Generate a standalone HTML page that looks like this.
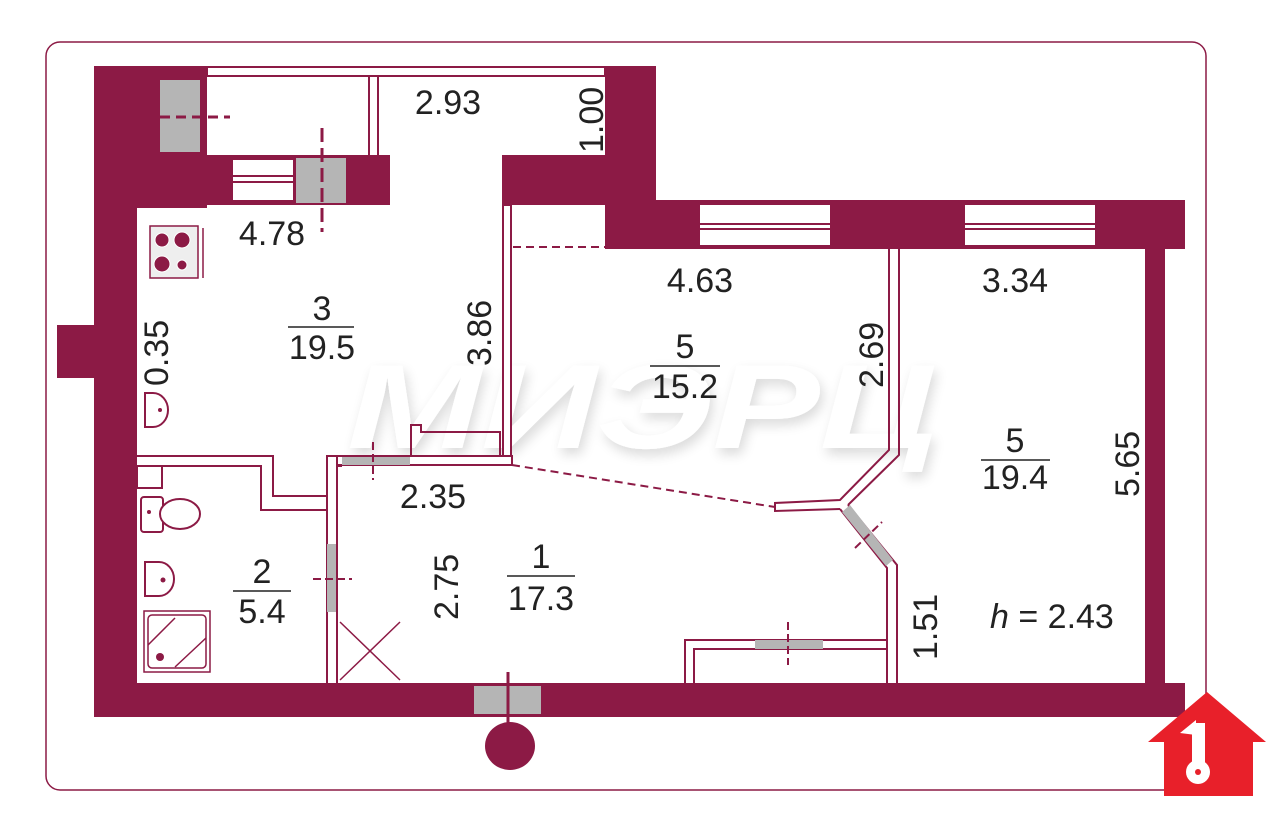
<!DOCTYPE html>
<html><head><meta charset="utf-8"><style>
html,body{margin:0;padding:0;background:#fff;}
svg{display:block;}
text{font-family:"Liberation Sans",sans-serif;fill:#222;}
</style></head><body>
<svg width="1280" height="821" viewBox="0 0 1280 821" xmlns="http://www.w3.org/2000/svg">
<defs><style>.w{fill:#8c1a45}.t{fill:#fff;stroke:#8c1a45;stroke-width:2}.g{fill:#b5b5b5}.d{stroke:#8c1a45;stroke-width:2;stroke-dasharray:8 5;fill:none}.n{font-size:34px}</style>
<filter id="sh" x="-10%" y="-30%" width="120%" height="160%"><feGaussianBlur in="SourceAlpha" stdDeviation="6"/><feOffset dx="3" dy="6"/><feComponentTransfer><feFuncA type="linear" slope="0.15"/></feComponentTransfer><feMerge><feMergeNode/><feMergeNode in="SourceGraphic"/></feMerge></filter></defs>
<rect x="46" y="42" width="1160" height="748" rx="14" fill="none" stroke="#8c1a45" stroke-width="1.5"/>
<!-- watermark -->
<text x="642" y="448" text-anchor="middle" font-size="120" font-weight="bold" font-style="italic" style="fill:#fff" filter="url(#sh)" textLength="590" lengthAdjust="spacingAndGlyphs">МИЭРЦ</text>
<!-- walls -->
<rect class="w" x="94" y="66" width="113" height="142"/>
<rect class="w" x="94" y="155" width="296" height="50"/>
<rect class="w" x="94" y="66" width="43" height="651"/>
<rect class="w" x="57" y="325" width="40" height="53"/>
<rect class="w" x="605" y="66" width="51" height="140"/>
<rect class="w" x="502" y="155" width="154" height="50"/>
<rect class="w" x="605" y="200" width="580" height="49"/>
<rect class="w" x="1145" y="249" width="20" height="440"/>
<rect class="w" x="94" y="683" width="1091" height="34"/>
<!-- windows / doors in walls -->
<rect class="g" x="160" y="80" width="40" height="72"/>
<line x1="160" y1="117" x2="230" y2="117" stroke="#8c1a45" stroke-width="3" stroke-dasharray="10 6"/>
<rect x="233" y="160" width="60" height="40" fill="#fff"/>
<line x1="233" y1="176" x2="293" y2="176" stroke="#8c1a45" stroke-width="2"/><line x1="233" y1="182" x2="293" y2="182" stroke="#8c1a45" stroke-width="2"/>
<rect class="g" x="296" y="158" width="50" height="45"/>
<line x1="322" y1="128" x2="322" y2="232" stroke="#8c1a45" stroke-width="3" stroke-dasharray="14 6"/>
<rect x="700" y="205" width="130" height="40" fill="#fff"/>
<line x1="700" y1="224" x2="830" y2="224" stroke="#8c1a45" stroke-width="2"/><line x1="700" y1="229" x2="830" y2="229" stroke="#8c1a45" stroke-width="2"/>
<rect x="965" y="205" width="130" height="40" fill="#fff"/>
<line x1="965" y1="224" x2="1095" y2="224" stroke="#8c1a45" stroke-width="2"/><line x1="965" y1="229" x2="1095" y2="229" stroke="#8c1a45" stroke-width="2"/>
<rect class="g" x="474" y="686" width="67" height="28"/>
<line x1="508" y1="672" x2="508" y2="725" stroke="#8c1a45" stroke-width="3"/>
<ellipse cx="510" cy="746" rx="25" ry="24" fill="#8c1a45"/>
<!-- balcony thin -->
<rect class="t" x="207" y="67" width="398" height="9"/>
<rect class="t" x="369" y="76" width="9" height="80"/>
<!-- partitions -->
<rect class="t" x="503" y="205" width="8" height="260"/>
<line x1="513" y1="247" x2="605" y2="247" class="d"/>
<polyline points="411,458 411,425 421,425 421,432 500,432 500,462" fill="none" stroke="#8c1a45" stroke-width="2"/>
<rect class="t" x="337" y="456" width="175" height="9"/>
<rect class="g" x="342" y="457" width="68" height="8"/>
<line x1="373" y1="442" x2="373" y2="480" stroke="#8c1a45" stroke-width="2" stroke-dasharray="8 4"/>
<line x1="512" y1="465" x2="775" y2="507" class="d" stroke-dasharray="5 4"/>
<!-- bathroom walls -->
<polyline points="137,456 273,456 273,496 327,496 327,683" fill="none" stroke="#8c1a45" stroke-width="2"/>
<polyline points="137,466 261,466 261,510 327,510" fill="none" stroke="#8c1a45" stroke-width="2"/>
<polyline points="337,683 337,466 342,466" fill="none" stroke="#8c1a45" stroke-width="2"/>
<polyline points="327,496 327,456 337,456" fill="none" stroke="#8c1a45" stroke-width="2"/>
<rect class="g" x="327" y="544" width="9" height="68"/>
<line x1="313" y1="579" x2="352" y2="579" stroke="#8c1a45" stroke-width="2" stroke-dasharray="8 4"/>
<line x1="340" y1="622" x2="400" y2="680" stroke="#8c1a45" stroke-width="1.5"/><line x1="400" y1="622" x2="340" y2="680" stroke="#8c1a45" stroke-width="1.5"/>
<rect x="137" y="466" width="25" height="22" fill="none" stroke="#8c1a45" stroke-width="2"/>
<!-- fixtures -->
<rect x="141" y="497" width="22" height="35" rx="3" fill="#fff" stroke="#8c1a45" stroke-width="2"/>
<ellipse cx="180" cy="514" rx="20" ry="15" fill="#fff" stroke="#8c1a45" stroke-width="2"/>
<circle cx="149" cy="512" r="2" fill="#8c1a45"/>
<path d="M145,562 h14 a15,17 0 0 1 0,34 h-14 z" fill="#fff" stroke="#8c1a45" stroke-width="2"/>
<circle cx="163" cy="580" r="2.5" fill="#8c1a45"/>
<rect x="144" y="611" width="66" height="61" fill="#fff" stroke="#8c1a45" stroke-width="1.5"/>
<rect x="148" y="615" width="58" height="53" rx="4" fill="none" stroke="#8c1a45" stroke-width="1.5"/>
<line x1="148" y1="645" x2="175" y2="618" stroke="#8c1a45" stroke-width="1.5"/><line x1="175" y1="667" x2="206" y2="638" stroke="#8c1a45" stroke-width="1.5"/>
<circle cx="160" cy="657" r="4" fill="#8c1a45"/>
<path d="M145,393 h8 a15,17 0 0 1 0,34 h-8 z" fill="#fff" stroke="#8c1a45" stroke-width="2"/>
<circle cx="160" cy="410" r="2" fill="#8c1a45"/>
<rect x="150" y="226" width="48" height="52" fill="#eee" stroke="#8c1a45" stroke-width="1.5"/>
<line x1="203" y1="228" x2="203" y2="278" stroke="#8c1a45" stroke-width="1.5"/>
<circle cx="162" cy="240" r="7" fill="#8c1a45" stroke="#fff" stroke-width="1"/><circle cx="182" cy="240" r="8" fill="#8c1a45" stroke="#fff" stroke-width="1"/>
<circle cx="162" cy="264" r="8" fill="#8c1a45" stroke="#fff" stroke-width="1"/><circle cx="182" cy="265" r="5" fill="#8c1a45" stroke="#fff" stroke-width="1"/>
<!-- right partitions -->
<polyline points="889,249 889,450 840,500 775,503 775,511 840,509" fill="none" stroke="#8c1a45" stroke-width="2"/>
<polyline points="899,249 899,455 848,505" fill="none" stroke="#8c1a45" stroke-width="2"/>
<polyline points="840,509 887,568 887,683" fill="none" stroke="#8c1a45" stroke-width="2"/>
<polyline points="848,505 897,565 897,683" fill="none" stroke="#8c1a45" stroke-width="2"/>
<polygon points="842,512 850,505 893,560 886,566" fill="#b5b5b5"/>
<line x1="855" y1="548" x2="882" y2="522" stroke="#8c1a45" stroke-width="2" stroke-dasharray="8 4"/>
<polyline points="685,683 685,640 887,640" fill="none" stroke="#8c1a45" stroke-width="2"/>
<polyline points="694,683 694,649 887,649" fill="none" stroke="#8c1a45" stroke-width="2"/>
<rect class="g" x="755" y="640" width="68" height="9"/>
<line x1="788" y1="622" x2="788" y2="665" stroke="#8c1a45" stroke-width="2" stroke-dasharray="8 4"/>
<!-- labels -->
<text class="n" x="448" y="114" text-anchor="middle">2.93</text>
<text class="n" transform="translate(603,153) rotate(-90)">1.00</text>
<text class="n" x="272" y="245" text-anchor="middle">4.78</text>
<text class="n" x="322" y="320" text-anchor="middle">3</text><line x1="288" y1="327" x2="354" y2="327" stroke="#222" stroke-width="1.5"/>
<text class="n" x="322" y="359" text-anchor="middle">19.5</text>
<text class="n" transform="translate(168,386) rotate(-90)">0.35</text>
<text class="n" transform="translate(491,366) rotate(-90)">3.86</text>
<text class="n" x="700" y="292" text-anchor="middle">4.63</text>
<text class="n" x="1015" y="292" text-anchor="middle">3.34</text>
<text class="n" x="685" y="358" text-anchor="middle">5</text><line x1="650" y1="366" x2="720" y2="366" stroke="#222" stroke-width="1.5"/>
<text class="n" x="685" y="398" text-anchor="middle">15.2</text>
<text class="n" transform="translate(883,388) rotate(-90)">2.69</text>
<text class="n" x="1015" y="452" text-anchor="middle">5</text><line x1="981" y1="460" x2="1050" y2="460" stroke="#222" stroke-width="1.5"/>
<text class="n" x="1015" y="489" text-anchor="middle">19.4</text>
<text class="n" transform="translate(1139,497) rotate(-90)">5.65</text>
<text class="n" x="433" y="508" text-anchor="middle">2.35</text>
<text class="n" transform="translate(458,620) rotate(-90)">2.75</text>
<text class="n" x="541" y="568" text-anchor="middle">1</text><line x1="507" y1="576" x2="575" y2="576" stroke="#222" stroke-width="1.5"/>
<text class="n" x="541" y="610" text-anchor="middle">17.3</text>
<text class="n" x="262" y="583" text-anchor="middle">2</text><line x1="233" y1="591" x2="291" y2="591" stroke="#222" stroke-width="1.5"/>
<text class="n" x="262" y="623" text-anchor="middle">5.4</text>
<text class="n" transform="translate(937,660) rotate(-90)">1.51</text>
<text class="n" x="990" y="628"><tspan font-style="italic">h</tspan> = 2.43</text>
<!-- logo -->
<polygon points="1207,692 1266,742 1253,742 1253,796 1164,796 1164,742 1148,742" fill="#e8202a"/>
<rect x="1192" y="723" width="13" height="40" fill="#fff"/>
<polygon points="1180,733 1196,720 1196,735" fill="#fff"/>
<circle cx="1198" cy="772" r="12" fill="#fff"/><circle cx="1198" cy="772" r="3" fill="#e8202a"/>
</svg>
</body></html>
